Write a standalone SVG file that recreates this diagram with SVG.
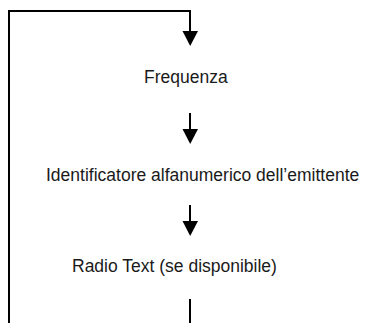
<svg xmlns="http://www.w3.org/2000/svg" width="380" height="323" viewBox="0 0 380 323">
<style>
.c{fill:none;stroke:#000;stroke-width:2}
.h{fill:#000}
text{font-family:"Liberation Sans",Arial,sans-serif;font-size:17.5px;fill:#1a1a1a}
</style>
<rect width="380" height="323" fill="#fff"/>
<g id="connectors">
<path class="c" d="M9,323 V11 H190 V33"/>
<polygon class="h" points="182.5,31 198,31 190.2,46"/>
<path class="c" d="M190,113 V131"/>
<polygon class="h" points="182.5,129 198,129 190.2,144"/>
<path class="c" d="M190,205 V223"/>
<polygon class="h" points="182.5,221 198,221 190.2,236"/>
<path class="c" d="M190,299 V323"/>
</g>
<g id="n1"><text x="144" y="83">Frequenza</text></g>
<g id="n2"><text x="46" y="181">Identificatore alfanumerico dell’emittente</text></g>
<g id="n3"><text x="72" y="272">Radio Text (se disponibile)</text></g>
</svg>
